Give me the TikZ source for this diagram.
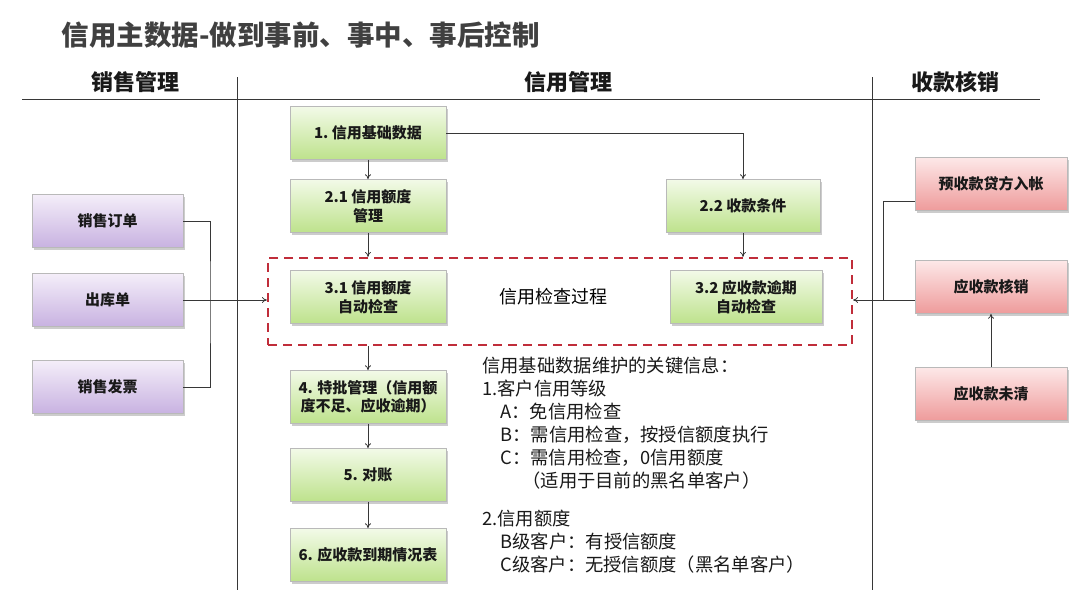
\documentclass[tikz,border=0pt]{standalone}
\usepackage{fontspec}
\setmainfont{Noto Sans CJK SC}
\usetikzlibrary{positioning}
\usetikzlibrary{calc}
\usetikzlibrary{arrows.meta}
\usetikzlibrary{shadows}
\definecolor{titlegray}{RGB}{64,64,64}
\definecolor{linegray}{RGB}{55,55,55}
\definecolor{chkred}{RGB}{192,45,58}
\definecolor{greentop}{RGB}{242,250,232}
\definecolor{greenbot}{RGB}{190,226,140}
\definecolor{purpletop}{RGB}{244,238,249}
\definecolor{purplebot}{RGB}{200,178,225}
\definecolor{redtop}{RGB}{253,232,232}
\definecolor{redbot}{RGB}{238,155,155}

\tikzset{
    box/.style={draw=gray!55, line width=0.6pt, minimum width=156pt, minimum height=53pt,
        align=center, inner sep=2pt, text=black!90,
        font=\bfseries\fontsize{15}{18.5}\selectfont,
        drop shadow={shadow xshift=2pt, shadow yshift=-2pt, opacity=0.4}},
    greenbox/.style={box, top color=greentop, bottom color=greenbot},
    salebox/.style={box, minimum width=151pt, top color=purpletop, bottom color=purplebot},
    cashbox/.style={box, minimum width=152pt, top color=redtop, bottom color=redbot},
    link/.style={draw=linegray, line width=0.8pt},
    tip/.style={-{To[length=5pt,width=6pt]}},
    lane/.style={draw=linegray, line width=0.9pt},
    lanehead/.style={font=\bfseries\fontsize{22}{26}\selectfont, text=black!90},
    chkbox/.style={draw=chkred, line width=2.2pt, dash pattern=on 9pt off 6pt,
        minimum width=584pt, minimum height=87pt}
}

\begin{document}
\begin{tikzpicture}[x=1pt, y=-1pt]
    \useasboundingbox[fill=white] (0,0) rectangle (1080,608);

    % title and lanes
    \node[anchor=west, font=\bfseries\fontsize{27.5}{32}\selectfont, text=titlegray] (title) at (58,35)
        {信用主数据-做到事前、事中、事后控制};
    \node[lanehead] (hsales) at (135,82) {销售管理};
    \node[lanehead] (hcredit) at (568,82) {信用管理};
    \node[lanehead] (hcash) at (955,82) {收款核销};
    \draw[lane] (22,99) -- (1040,99);
    \draw[lane] (237,77) -- (237,590);
    \draw[lane] (872,77) -- (872,590);

    % credit check area
    \node[chkbox] (chk) at (560,301.5) {};
    \node[font=\fontsize{18}{21}\selectfont] (chklabel) at (553,297) {信用检查过程};

    % credit management column
    \node[greenbox] (base) at (368,133) {1.\ 信用基础数据};
    \node[greenbox] (quota) at (368,206) {2.1 信用额度\\管理};
    \node[greenbox, minimum width=154pt] (terms) at (743,206) {2.2 收款条件};
    \node[greenbox] (qchk) at (368,297) {3.1 信用额度\\自动检查};
    \node[greenbox, minimum width=152pt] (odchk) at (746,297) {3.2 应收款逾期\\自动检查};
    \node[greenbox] (special) at (368,397) {4. 特批管理（信用额\\度不足、应收逾期）};
    \node[greenbox] (recon) at (368,475) {5. 对账};
    \node[greenbox] (due) at (368,555) {6. 应收款到期情况表};

    % sales documents
    \node[salebox] (order) at (107.5,221) {销售订单};
    \node[salebox] (issue) at (107.5,300) {出库单};
    \node[salebox] (invoice) at (107.5,387) {销售发票};

    % receipts
    \node[cashbox] (adv) at (991,184) {预收款贷方入帐};
    \node[cashbox] (wo) at (991,287) {应收款核销};
    \node[cashbox] (open) at (991,394) {应收款未清};

    % key info
    \node[anchor=north west, align=left, inner sep=0pt,
        font=\fontsize{18.3}{23}\selectfont, text=black!90] (info) at (482,357)
        {信用基础数据维护的关键信息：\\
         1.客户信用等级\\
         \hspace*{1em}A：免信用检查\\
         \hspace*{1em}B：需信用检查，按授信额度执行\\
         \hspace*{1em}C：需信用检查，0信用额度\\
         \hspace*{2.2em}（适用于目前的黑名单客户）\\[15pt]
         2.信用额度\\
         \hspace*{1em}B级客户：有授信额度\\
         \hspace*{1em}C级客户：无授信额度（黑名单客户）};

    % connectors
    \coordinate (jl) at (210,300);
    \coordinate (jr) at (883,300);
    \draw[link, tip] (base) -- (quota);
    \draw[link, tip] (base.east) -| (terms.north);
    \draw[link, tip] (quota) -- (quota |- chk.north);
    \draw[link, tip] (terms) -- (terms |- chk.north);
    \draw[link, tip] (qchk |- chk.south) -- (special);
    \draw[link, tip] (special) -- (recon);
    \draw[link, tip] (recon) -- (due);
    \draw[link] (order.east) -| (jl) |- (invoice.east);
    \draw[link, tip] (issue.east) -- (chk.west |- issue.east);
    \draw[link] ([yshift=-17pt]adv.west) -| (jr);
    \draw[link, tip] ([yshift=-13pt]wo.west) -- (chk.east |- jr);
    \draw[link, tip] (open) -- (wo);
\end{tikzpicture}
\end{document}
